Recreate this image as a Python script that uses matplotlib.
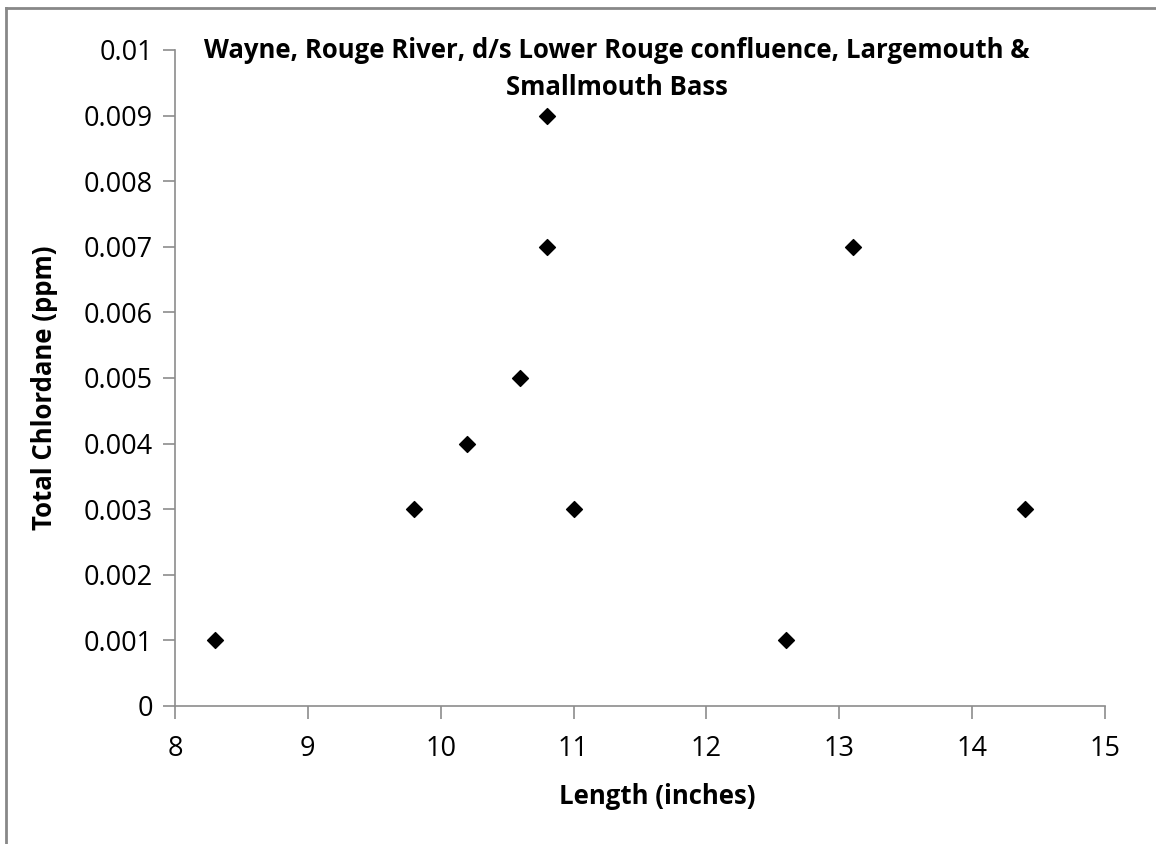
import matplotlib
matplotlib.use('Agg')
import matplotlib.pyplot as plt
from matplotlib.lines import Line2D

# data
length_in = [8.3, 9.8, 10.2, 10.6, 10.8, 10.8, 11.0, 12.6, 13.1, 14.4]
chlordane_ppm = [0.001, 0.003, 0.004, 0.005, 0.007, 0.009, 0.003, 0.001, 0.007, 0.003]
x_ticks = [8, 9, 10, 11, 12, 13, 14, 15]
y_ticks = [0, 0.001, 0.002, 0.003, 0.004, 0.005, 0.006, 0.007, 0.008, 0.009, 0.01]
y_labels = ['0', '0.001', '0.002', '0.003', '0.004', '0.005', '0.006',
            '0.007', '0.008', '0.009', '0.01']

plt.rcParams['font.family'] = ['Open Sans', 'DejaVu Sans']

W, H = 1156, 844
fig = plt.figure(figsize=(W / 100, H / 100), dpi=100)
# axes box in pixels: left 175, right 1105, top 50, bottom 706
ax = fig.add_axes([175 / W, 1 - 706 / H, (1105 - 175) / W, (706 - 50) / H])

ax.scatter(length_in, chlordane_ppm, marker='D', s=65, color='black', zorder=3)

ax.set_xlim(8, 15)
ax.set_ylim(0, 0.01)
ax.set_xticks(x_ticks)
ax.set_yticks(y_ticks)
ax.set_yticklabels(y_labels)
ax.tick_params(axis='both', direction='out', length=9, width=1.2, color='#8c8c8c',
               labelsize=19.5, pad=7)
ax.tick_params(axis='x', pad=12)

for side in ['top', 'right']:
    ax.spines[side].set_visible(False)
for side in ['left', 'bottom']:
    ax.spines[side].set_color('#8c8c8c')
    ax.spines[side].set_linewidth(1.2)

fig.text(617 / W, 1 - 69 / H, 'Wayne, Rouge River, d/s Lower Rouge confluence, Largemouth &\nSmallmouth Bass',
         ha='center', va='center', fontsize=18.5, fontweight='bold', linespacing=1.45)
fig.text(45 / W, 1 - 388 / H, 'Total Chlordane (ppm)', rotation=90, ha='center', va='center',
         fontsize=18.5, fontweight='bold')
fig.text(657 / W, 1 - 797 / H, 'Length (inches)', ha='center', va='center',
         fontsize=18.5, fontweight='bold')

# outer frame (only top and left edges visible)
fig.add_artist(Line2D([6 / W, 1], [1 - 8 / H, 1 - 8 / H], color='#888888', lw=2,
                      transform=fig.transFigure))
fig.add_artist(Line2D([6 / W, 6 / W], [0, 1 - 8 / H], color='#888888', lw=2,
                      transform=fig.transFigure))

fig.savefig('out.png', dpi=100)
